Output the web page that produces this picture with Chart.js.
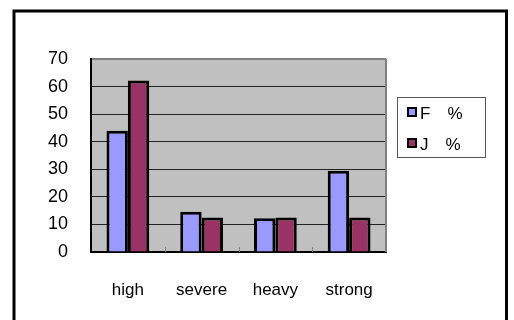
<!DOCTYPE html>
<html>
<head>
<meta charset="utf-8">
<script src="https://cdn.jsdelivr.net/npm/chart.js@4"></script>
<style>
  html, body { margin: 0; padding: 0; background: #fff; }
  #wrap { position: relative; width: 514px; height: 320px; }
</style>
</head>
<body>
<div id="wrap"><canvas id="chart" width="514" height="320"></canvas></div>
<script>
const categories = ["high", "severe", "heavy", "strong"]
const seriesNames = ["F\u3000%", "J\u3000%"]
const fValues = [44, 14.6, 12.2, 29.5]
const jValues = [62.2, 12.5, 12.5, 12.5]
const yTicks = [0, 10, 20, 30, 40, 50, 60, 70]

const FONT = "'Liberation Sans', Arial, sans-serif"

// frame, plot fill, right border, inner ticks, legend box
const excelLook = {
  id: "excelLook",
  beforeDraw(chart) {
    const { ctx, chartArea: a } = chart
    ctx.save()
    ctx.fillStyle = "#c0c0c0"
    ctx.fillRect(a.left, a.top, a.right - a.left, a.bottom - a.top)
    ctx.strokeStyle = "#000"
    ctx.lineWidth = 3
    ctx.beginPath()
    ctx.moveTo(14, 330)
    ctx.lineTo(14, 11)
    ctx.lineTo(506.5, 11)
    ctx.lineTo(506.5, 330)
    ctx.stroke()
    ctx.restore()
  },
  afterDraw(chart) {
    const { ctx, chartArea: a } = chart
    const x = chart.scales.x
    ctx.save()
    ctx.strokeStyle = "#808080"
    ctx.lineWidth = 2
    ctx.beginPath()
    ctx.moveTo(a.right, a.top)
    ctx.lineTo(a.right, a.bottom)
    ctx.stroke()

    ctx.lineWidth = 1
    ctx.strokeStyle = "#808080"
    for (let i = 0; i < categories.length - 1; i++) {
      const px = Math.round((x.getPixelForValue(i) + x.getPixelForValue(i + 1)) / 2) + 0.5
      ctx.beginPath()
      ctx.moveTo(px, a.bottom)
      ctx.lineTo(px, a.bottom - 5)
      ctx.stroke()
    }

    // legend
    ctx.fillStyle = "#fff"
    ctx.fillRect(397.5, 97.5, 88, 60)
    ctx.strokeStyle = "#555"
    ctx.strokeRect(397.5, 97.5, 88, 60)
    ctx.font = "17px " + FONT
    ctx.textBaseline = "middle"
    chart.data.datasets.forEach((ds, i) => {
      const cy = 112 + i * 31
      ctx.fillStyle = ds.backgroundColor
      ctx.fillRect(408, cy - 4, 8, 8)
      ctx.strokeStyle = "#000"
      ctx.lineWidth = 2
      ctx.strokeRect(408, cy - 4, 8, 8)
      ctx.fillStyle = "#000"
      ctx.textAlign = "left"
      ctx.fillText(ds.label, 420, cy + 2)
    })
    ctx.restore()
  }
}

new Chart(document.getElementById("chart"), {
  type: "bar",
  data: {
    labels: categories,
    datasets: [
      { label: seriesNames[0], data: fValues, backgroundColor: "#9999ff", borderColor: "#000", borderWidth: 3 },
      { label: seriesNames[1], data: jValues, backgroundColor: "#993366", borderColor: "#000", borderWidth: 3 }
    ]
  },
  options: {
    responsive: false,
    animation: false,
    events: [],
    layout: { padding: { left: 0, top: 59, right: 128, bottom: 0 } },
    datasets: { bar: { categoryPercentage: 0.58, barPercentage: 1 } },
    plugins: { legend: { display: false }, tooltip: { enabled: false } },
    scales: {
      x: {
        grid: { display: false },
        border: { display: true, color: "#000", width: 2 },
        ticks: { color: "#000", padding: 20, font: { family: FONT, size: 17 } },
        afterFit(s) { s.height = 68 }
      },
      y: {
        min: 0,
        max: 70,
        afterBuildTicks(s) { s.ticks = yTicks.map(v => ({ value: v })) },
        grid: {
          drawTicks: false,
          color: c => (c.tick && c.tick.value === 70 ? "#808080" : "#222"),
          lineWidth: c => (c.tick && c.tick.value === 70 ? 2 : 1)
        },
        border: { display: true, color: "#000", width: 2 },
        ticks: { color: "#000", padding: 23, font: { family: FONT, size: 18 } },
        afterFit(s) { s.width = 91 }
      }
    }
  },
  plugins: [excelLook]
})
</script>
</body>
</html>
